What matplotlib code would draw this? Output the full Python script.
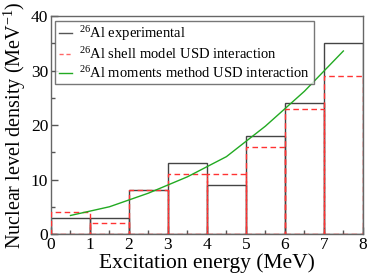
import matplotlib
matplotlib.use("Agg")
import matplotlib.pyplot as plt
import numpy as np

plt.rcParams['font.family'] = ['Liberation Serif', 'DejaVu Serif']
plt.rcParams['mathtext.fontset'] = 'custom'
plt.rcParams['mathtext.rm'] = 'Liberation Serif'
plt.rcParams['mathtext.it'] = 'Liberation Serif:italic'

bin_edges = [0, 1, 2, 3, 4, 5, 6, 7]
experimental = [3, 3, 8, 13, 9, 18, 24, 35]
shell_model = [4, 2, 8, 11, 11, 16, 23, 29]
moments_x = [0.5, 1.5, 2.5, 3.5, 4.5, 5.5, 6.5, 7.5]
moments_y = [3.4, 5.0, 7.5, 10.5, 14.2, 19.8, 26.2, 33.6]

fig = plt.figure(figsize=(3.68, 2.73), dpi=100)
ax = fig.add_axes([0.1386, 0.1429, 0.8474, 0.798])

ax.bar(bin_edges, experimental, width=1, align='edge', fill=False,
       edgecolor='#444444', linewidth=1.0, zorder=2)
ax.bar(bin_edges, shell_model, width=1, align='edge', fill=False,
       edgecolor='#ff3333', linewidth=1.0, linestyle=(0, (4, 2.5)), zorder=3)
ax.plot(moments_x, moments_y, color='#22aa22', linewidth=1.0, zorder=4)

# legend handles
ax.plot([], [], color='#555555', lw=1.0, label='$^{26}$Al experimental')
ax.plot([], [], color='#ff6666', lw=1.0, ls=(0, (3, 2)), label='$^{26}$Al shell model USD interaction')
ax.plot([], [], color='#22aa22', lw=1.0, label='$^{26}$Al moments method USD interaction')

ax.set_xlim(0, 8)
ax.set_ylim(0, 40)
ax.set_xticks(range(0, 9))
ax.set_xticks(np.arange(0.5, 8, 1), minor=True)
ax.set_yticks(range(0, 41, 10))
ax.set_yticks(range(5, 40, 10), minor=True)
ax.tick_params(which='both', direction='in', color='#555555', width=1)
ax.tick_params(which='major', length=5, labelsize=12.5)
ax.tick_params(axis='x', which='major', pad=2.5)
ax.tick_params(axis='y', which='major', pad=2)
ax.tick_params(which='minor', length=3)
for s in ax.spines.values():
    s.set_color('#666666')
    s.set_linewidth(1.0)

ax.set_xlabel('Excitation energy (MeV)', fontsize=15.5, labelpad=0)
ax.set_ylabel('Nuclear level density (MeV$^{-1}$)', fontsize=14.5, labelpad=2)

leg = ax.legend(loc='upper left', fontsize=10.5, frameon=True, fancybox=False,
                edgecolor='#555555', handlelength=0.9, handletextpad=0.5,
                borderpad=0.25, labelspacing=0.2, borderaxespad=0.3)
leg.get_frame().set_linewidth(1.0)

fig.savefig('out.png', dpi=100)
